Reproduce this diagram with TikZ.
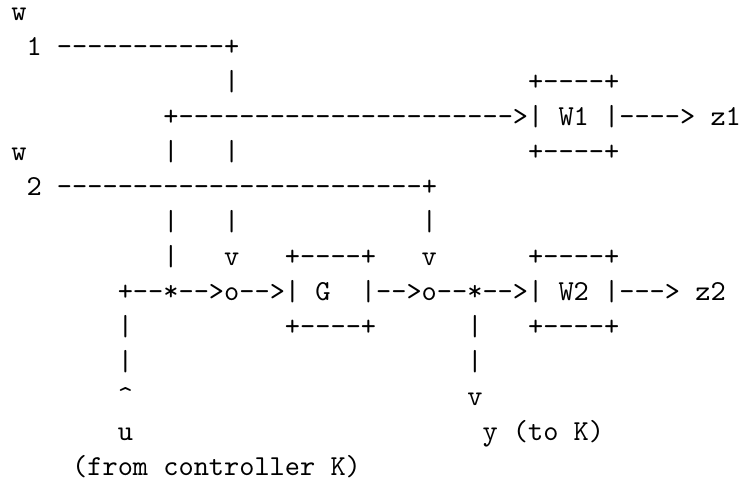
\documentclass[tikz,border=0pt]{standalone}
\usepackage{fontspec}
\newfontfamily\asciifam{lmmono10-regular.otf}
\newcommand\asciifont{\asciifam\fontsize{28.95}{35}\selectfont}
\newcommand\gap[1]{\hspace*{\dimexpr#1\fontcharwd\font`M\relax}}
\tikzset{asciiline/.style={inner sep=0pt, outer sep=0pt, anchor=base west, font=\asciifont}}
\begin{document}
\begin{tikzpicture}[x=1pt,y=1pt]
\useasboundingbox (0,0) rectangle (747,485);
\node[asciiline] (l1)  at (11.4,464.3) {w};
\node[asciiline] (l2)  at (11.4,429.3) {\gap{1}1\gap{1}-----------+};
\node[asciiline] (l3)  at (11.4,394.3) {\gap{14}|\gap{19}+----+};
\node[asciiline] (l4)  at (11.4,359.3) {\gap{10}+---------------------->|\gap{1}W1\gap{1}|---->\gap{1}z1};
\node[asciiline] (l5)  at (11.4,324.3) {w\gap{9}|\gap{3}|\gap{19}+----+};
\node[asciiline] (l6)  at (11.4,289.3) {\gap{1}2\gap{1}------------------------+};
\node[asciiline] (l7)  at (11.4,254.3) {\gap{10}|\gap{3}|\gap{12}|};
\node[asciiline] (l8)  at (11.4,219.3) {\gap{10}|\gap{3}v\gap{3}+----+\gap{3}v\gap{6}+----+};
\node[asciiline] (l9)  at (11.4,184.3) {\gap{7}+--*-->o-->|\gap{1}G\gap{2}|-->o--*-->|\gap{1}W2\gap{1}|--->\gap{1}z2};
\node[asciiline] (l10) at (11.4,149.3) {\gap{7}|\gap{10}+----+\gap{6}|\gap{3}+----+};
\node[asciiline] (l11) at (11.4,114.3) {\gap{7}|\gap{22}|};
\node[asciiline] (l12) at (11.4,79.3)  {\gap{7}\textasciicircum\gap{22}v};
\node[asciiline] (l13) at (11.4,44.3)  {\gap{7}u\gap{23}y\gap{1}(to\gap{1}K)};
\node[asciiline] (l14) at (11.4,9.3)   {\gap{4}(from\gap{1}controller\gap{1}K)};
\end{tikzpicture}
\end{document}
